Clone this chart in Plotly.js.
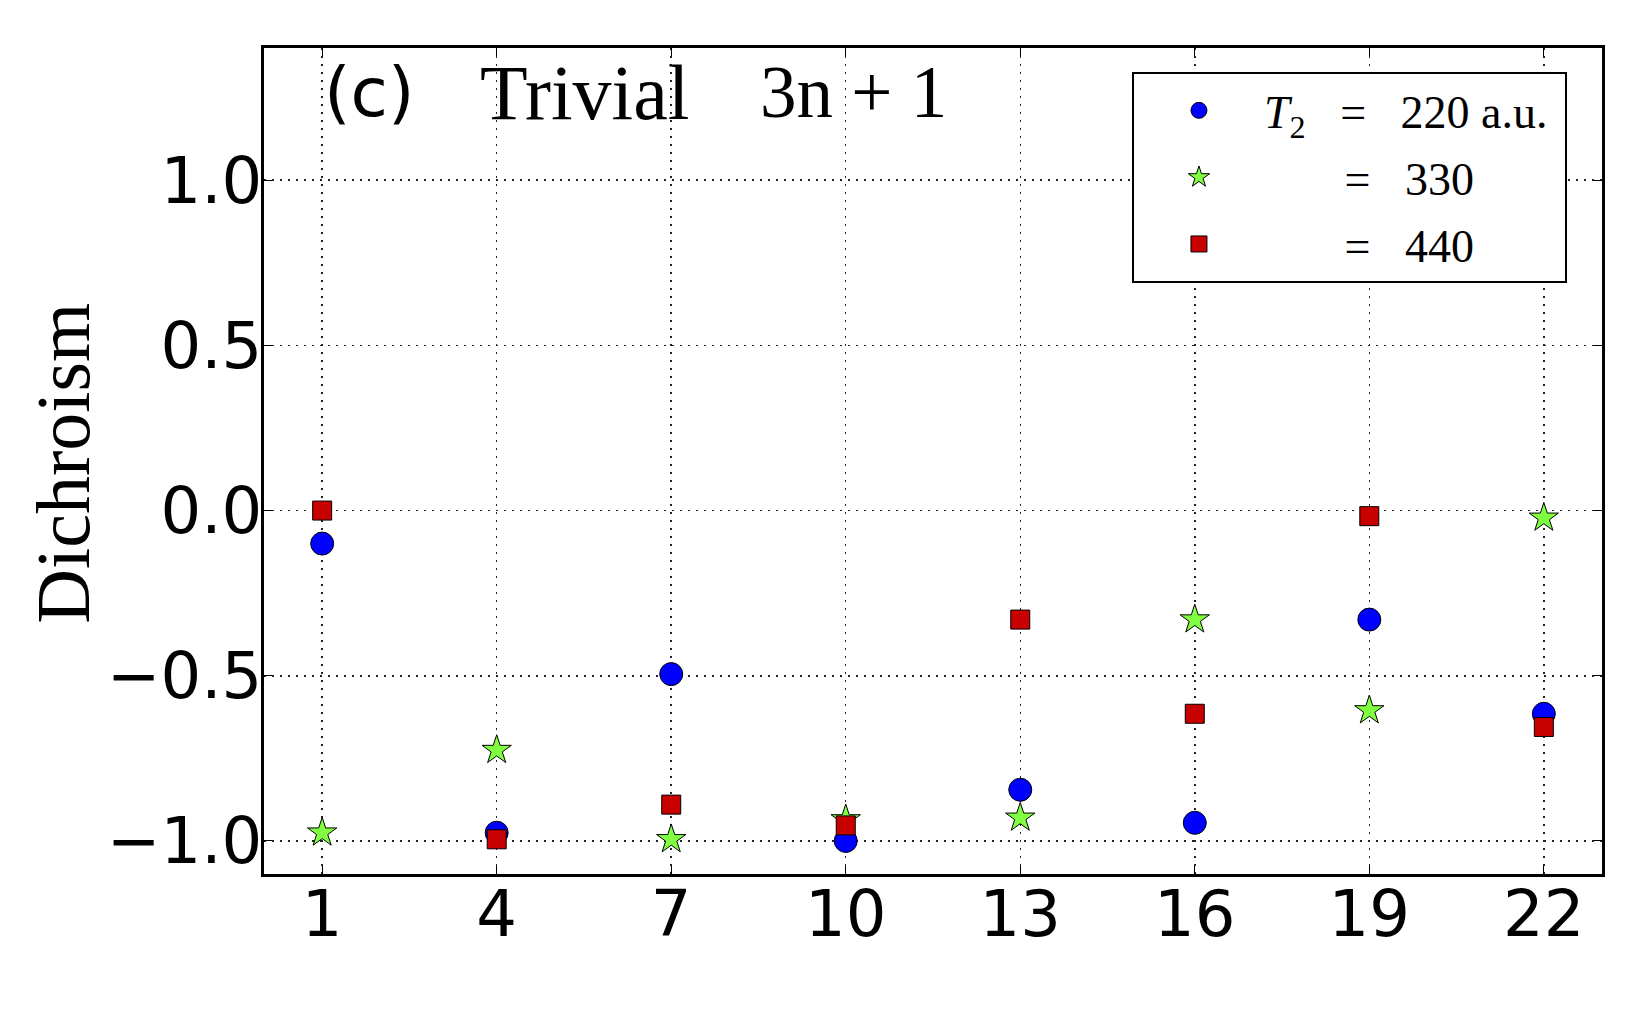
<!DOCTYPE html>
<html>
<head>
<meta charset="utf-8">
<script src="https://cdn.plot.ly/plotly-3.0.1.min.js"></script>
<style>html,body{margin:0;padding:0;background:#fff;}#chart{width:1650px;height:1018px;}</style>
</head>
<body>
<div id="chart"></div>
<script>
// ---- data ----
const xs = [1, 4, 7, 10, 13, 16, 19, 22];
const t220 = [-0.10, -0.975, -0.495, -1.0, -0.845, -0.945, -0.33, -0.615];
const t330 = [-0.975, -0.725, -0.995, -0.935, -0.93, -0.33, -0.605, -0.022];
const t440 = [0.0, -0.995, -0.89, -0.953, -0.33, -0.615, -0.017, -0.655];
const seriesNames = ['<i>T</i><sub>2</sub>\u00a0\u00a0\u00a0=\u00a0\u00a0\u00a0220 a.u.\u00a0',
                     '\u00a0\u00a0\u00a0\u00a0\u00a0\u00a0\u00a0=\u00a0\u00a0\u00a0330',
                     '\u00a0\u00a0\u00a0\u00a0\u00a0\u00a0\u00a0=\u00a0\u00a0\u00a0440'];
const xTicks = [1, 4, 7, 10, 13, 16, 19, 22];
const yTicks = [-1.0, -0.5, 0.0, 0.5, 1.0];
const yTickText = ['\u22121.0', '\u22120.5', '0.0', '0.5', '1.0'];
const panelLabel = '(c)';
const panelTitle = 'Trivial';
const panelRule = '3n + 1';
const yTitle = 'Dichroism';

const serif = 'Liberation Serif, DejaVu Serif, serif';
const sans = 'DejaVu Sans, sans-serif';

const traces = [
  {x: xs, y: t220, name: seriesNames[0], legendgroup: 'a', mode: 'markers', type: 'scatter',
   marker: {symbol: 'circle', size: 23, color: '#0000ff', line: {color: '#000', width: 1}}},
  {x: xs, y: t330, name: seriesNames[1], legendgroup: 'b', mode: 'markers', type: 'scatter',
   marker: {symbol: 'star', size: 22, color: '#7fff3f', line: {color: '#000', width: 1}}},
  {x: xs, y: t440, name: seriesNames[2], legendgroup: 'c', mode: 'markers', type: 'scatter',
   marker: {symbol: 'square', size: 19, color: '#c80000', line: {color: '#000', width: 1}}}
];

const axisCommon = {
  showgrid: true, gridcolor: '#222', griddash: '2px,6px', gridwidth: 1.5,
  showline: true, linecolor: '#000', linewidth: 3, mirror: 'allticks',
  ticks: 'inside', ticklen: 8, tickcolor: '#000', tickwidth: 1,
  zeroline: false, tickfont: {family: sans, size: 64, color: '#000'}
};

const layout = {
  width: 1650, height: 1018,
  margin: {l: 264, r: 48, t: 48, b: 144},
  paper_bgcolor: '#fff', plot_bgcolor: '#fff',
  showlegend: true,
  legend: {x: 0.6487, y: 0.971, xanchor: 'left', yanchor: 'top',
           bgcolor: '#fff', bordercolor: '#000', borderwidth: 2,
           font: {family: serif, size: 46, color: '#000'},
           traceorder: 'grouped', tracegroupgap: 4, itemsizing: 'trace', itemwidth: 120},
  xaxis: Object.assign({range: [0, 23], tickvals: xTicks, ticktext: xTicks.map(String),
          ticklabelstandoff: -18}, axisCommon),
  yaxis: Object.assign({range: [-1.1, 1.4], tickvals: yTicks, ticktext: yTickText,
          ticklabelstandoff: -14}, axisCommon),
  annotations: [
    {xref: 'paper', yref: 'paper', x: -0.150, y: 0.497, xanchor: 'center', yanchor: 'middle',
     text: yTitle, textangle: -90, showarrow: false, font: {family: serif, size: 76, color: '#000'}},
    {xref: 'paper', yref: 'paper', x: 0.043, y: 0.946, xanchor: 'left', yanchor: 'middle',
     text: panelLabel, showarrow: false, font: {family: sans, size: 68, color: '#000'}},
    {xref: 'paper', yref: 'paper', x: 0.16, y: 0.946, xanchor: 'left', yanchor: 'middle',
     text: panelTitle, showarrow: false, font: {family: serif, size: 78, color: '#000'}},
    {xref: 'paper', yref: 'paper', x: 0.369, y: 0.946, xanchor: 'left', yanchor: 'middle',
     text: panelRule, showarrow: false, font: {family: serif, size: 73, color: '#000'}}
  ]
};

Plotly.newPlot('chart', traces, layout, {displayModeBar: false, staticPlot: true});
</script>
</body>
</html>
